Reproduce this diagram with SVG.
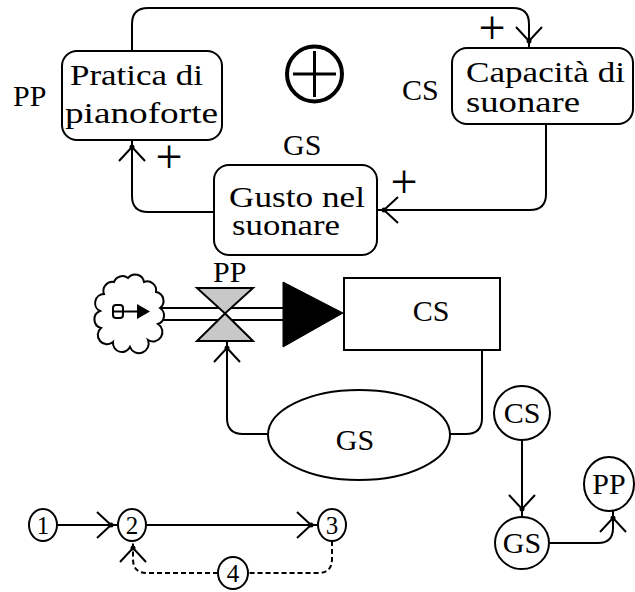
<svg xmlns="http://www.w3.org/2000/svg" width="635" height="592" viewBox="0 0 635 592">
<defs>
<style>
.ln{fill:none;stroke:#000;stroke-width:2}
.dash{fill:none;stroke:#000;stroke-width:2;stroke-dasharray:5 3}
.box{fill:#fff;stroke:#000;stroke-width:2}
.t{font-family:"Liberation Serif","Times New Roman",serif;font-size:30px;fill:#000}
.n{font-family:"Liberation Serif","Times New Roman",serif;font-size:25px;fill:#000;text-anchor:middle}
.c{text-anchor:middle}
.plus{font-family:"Liberation Serif","Times New Roman",serif;font-size:48px;fill:#000;text-anchor:middle}
.valve{fill:#c8c8c8;stroke:#000;stroke-width:2;stroke-linejoin:miter}
</style>
<marker id="arr" markerUnits="userSpaceOnUse" markerWidth="40" markerHeight="40" viewBox="-25 -20 40 40" refX="7" refY="0" orient="auto">
<path d="M-14,-13 L0,0 L-14,13" fill="none" stroke="#000" stroke-width="2"/>
<circle cx="0" cy="0" r="2.5" fill="#000"/>
</marker>
</defs>
<rect width="635" height="592" fill="#fff"/>

<g id="connectors">
<path class="ln" d="M132,51 V24 Q132,8 148,8 H513 Q529,8 529,24 V48" marker-end="url(#arr)"/>
<path class="ln" d="M546,124 V194 Q546,210 530,210 H377" marker-end="url(#arr)"/>
<path class="ln" d="M214,212 H148 Q132,212 132,196 V140" marker-end="url(#arr)"/>
<path class="ln" d="M160,308 H283 M160,320 H283"/>
<polygon points="283,282 283,347 343,313" fill="#000" stroke="#000" stroke-width="1"/>
<path class="ln" d="M482,350 V418 Q482,434 466,434 H450"/>
<path class="ln" d="M268,434 H243 Q227,434 227,418 V341" marker-end="url(#arr)"/>
<path class="ln" d="M57,525 H118" marker-end="url(#arr)"/>
<path class="ln" d="M147,525 H318" marker-end="url(#arr)"/>
<path class="dash" d="M332,541 V559 Q332,573 318,573 H248"/>
<path class="dash" d="M218,573 H147 Q133,573 133,559 V541" marker-end="url(#arr)"/>
<path class="ln" d="M522,440 V516" marker-end="url(#arr)"/>
<path class="ln" d="M549,543 H598 Q613,543 613,528 V511" marker-end="url(#arr)"/>
</g>

<g id="polarity">
<text class="plus" x="492" y="44">+</text>
<text class="plus" x="169" y="173">+</text>
<text class="plus" x="404" y="198">+</text>
<circle cx="314.5" cy="74" r="27.5" fill="none" stroke="#000" stroke-width="4"/>
<path d="M293,74 H336 M314.5,51 V97" stroke="#000" stroke-width="3" fill="none"/>
</g>

<g id="node-pp">
<rect class="box" x="62" y="51" width="160" height="89" rx="15"/>
<text class="t" x="13" y="106">PP</text>
<text class="t" x="70" y="85" textLength="133" lengthAdjust="spacingAndGlyphs">Pratica di</text>
<text class="t" x="65" y="123" textLength="153" lengthAdjust="spacingAndGlyphs">pianoforte</text>
</g>

<g id="node-cs">
<rect class="box" x="452" y="48" width="181" height="76" rx="15"/>
<text class="t" x="402" y="100">CS</text>
<text class="t" x="466" y="82" textLength="159" lengthAdjust="spacingAndGlyphs">Capacità di</text>
<text class="t" x="466" y="112" textLength="114" lengthAdjust="spacingAndGlyphs">suonare</text>
</g>

<g id="node-gs">
<rect class="box" x="214" y="165" width="163" height="90" rx="15"/>
<text class="t" x="283" y="155">GS</text>
<text class="t" x="229" y="207" textLength="136" lengthAdjust="spacingAndGlyphs">Gusto nel</text>
<text class="t" x="232" y="235" textLength="108" lengthAdjust="spacingAndGlyphs">suonare</text>
</g>

<g id="cloud">
<path class="box" d="M128,278 A9,9 0 0 1 144,282 A9,9 0 0 1 156,292 A9,9 0 0 1 160,308 A9,9 0 0 1 158,324 A9,9 0 0 1 148,340 A9,9 0 0 1 130,347 A9,9 0 0 1 113,342 A9,9 0 0 1 101,328 A9,9 0 0 1 100,311 A9,9 0 0 1 104,294 A9,9 0 0 1 114,282 A9,9 0 0 1 128,278 Z"/>
<rect x="113" y="305" width="10" height="13" rx="3" fill="none" stroke="#000" stroke-width="2"/>
<path d="M113,311.5 H140" stroke="#000" stroke-width="2"/>
<polygon points="137,304 137,319 150,311.5" fill="#000"/>
</g>

<g id="valve-pp">
<polygon class="valve" points="197,288 253,288 225,313.5"/>
<polygon class="valve" points="197,341 253,341 225,313.5"/>
<text class="t" x="213" y="282">PP</text>
</g>

<g id="stock-cs">
<rect class="box" x="344" y="278" width="156" height="72"/>
<text class="t c" x="431" y="321">CS</text>
</g>

<g id="aux-gs">
<ellipse class="box" cx="359" cy="435" rx="91" ry="45"/>
<text class="t c" x="355" y="450">GS</text>
</g>

<g id="n1"><ellipse class="box" cx="43" cy="525" rx="14" ry="16"/><text class="n" x="43" y="534">1</text></g>
<g id="n2"><ellipse class="box" cx="132" cy="525" rx="14" ry="16"/><text class="n" x="132" y="534">2</text></g>
<g id="n3"><ellipse class="box" cx="332" cy="525" rx="14" ry="16"/><text class="n" x="332" y="534">3</text></g>
<g id="n4"><ellipse class="box" cx="233" cy="573" rx="15" ry="16"/><text class="n" x="233" y="582">4</text></g>

<g id="c-cs"><ellipse class="box" cx="522" cy="413" rx="28" ry="27"/><text class="t c" x="522" y="423">CS</text></g>
<g id="c-gs"><ellipse class="box" cx="522" cy="543" rx="27" ry="26"/><text class="t c" x="522" y="553">GS</text></g>
<g id="c-pp"><ellipse class="box" cx="609" cy="484" rx="25" ry="27"/><text class="t c" x="609" y="494">PP</text></g>
</svg>
